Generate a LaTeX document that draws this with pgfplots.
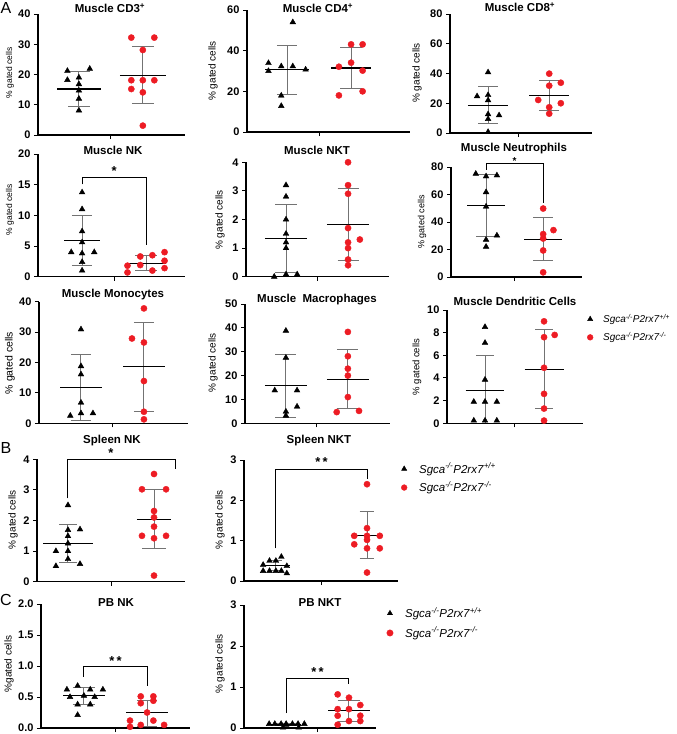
\documentclass[border=0pt]{standalone}
\usepackage{fontspec}
\setmainfont{Liberation Sans}
\usepackage{pgfplots}
\pgfplotsset{compat=1.18}

\definecolor{ptred}{RGB}{237,28,36}
\definecolor{whiskgray}{RGB}{115,115,115}

\pgfplotsset{
  panel/.style={scale only axis, anchor=south west, axis lines*=left,
    axis line style={line width=1.1pt}, ymin=0, xtick={1.5}, xticklabels={},
    tick align=outside, major tick length=4pt, tick style={line width=1pt, black},
    tick label style={font=\bfseries\fontsize{11}{12}\selectfont},
    /pgf/number format/assume math mode=true, clip=false},
  whisk/.style={whiskgray, line width=1pt, forget plot},
  meanbar/.style={black, line width=1.1pt, forget plot},
  bracket/.style={black, line width=1pt, forget plot},
  tri/.style={only marks, mark=triangle*, mark size=3.3pt, black, forget plot},
  dot/.style={only marks, mark=*, mark size=3.1pt, ptred, forget plot},
  keybox/.style={legend image code/.code={\draw[##1] plot coordinates {(0pt,0pt)};},
    legend style={at={(#1)}, anchor=north west, draw=none, fill=none,
      inner sep=0pt, nodes={inner sep=1pt}},
    legend cell align=left},
}

% mean +/- SD: x, mean, low, high, cap half-width, mean-bar half-width
\newcommand\msd[6]{%
  \pgfmathsetmacro\msdxa{#1-#5}\pgfmathsetmacro\msdxb{#1+#5}%
  \pgfmathsetmacro\msdxc{#1-#6}\pgfmathsetmacro\msdxd{#1+#6}%
  \edef\msdplot{%
    \noexpand\addplot[whisk] coordinates {(#1,#3) (#1,#4)};
    \noexpand\addplot[whisk] coordinates {(\msdxa,#3) (\msdxb,#3)};
    \noexpand\addplot[whisk] coordinates {(\msdxa,#4) (\msdxb,#4)};
    \noexpand\addplot[meanbar] coordinates {(\msdxc,#2) (\msdxd,#2)};
  }\msdplot}

\newcommand\legtext[2]{\hspace{#2}\textit{Sgca}\textsuperscript{\textit{-/-}}\textit{P2rx7}\textsuperscript{\textit{#1}}}
\newcommand\startxt[1]{\bfseries\fontsize{#1}{#1}\selectfont}

\begin{document}
\begin{tikzpicture}
\useasboundingbox (0,0) rectangle (677pt,-734pt);

% ---------------- A: muscle ----------------
\begin{axis}[panel, at={(38pt,-135pt)}, width=147pt, height=121pt,
  xmin=0.36, xmax=2.66, ymax=40, ytick={0,10,20,30,40}]
\msd{1}{15.2}{9.4}{21.0}{0.17}{0.34}
\msd{2}{19.8}{10.3}{29.3}{0.17}{0.36}
\addplot[tri] coordinates {(0.82,21.2) (1.17,21.9) (0.82,18.2) (1,19.0) (1,16.8) (1,14.7) (1,12.0) (1,8.1)};
\addplot[dot] coordinates {(1.82,32.2) (2.18,32.2) (2,28.1) (1.82,18.1) (2,18.1) (2.18,18.1) (1.82,15.2) (2,14.1) (2,3.1)};
\end{axis}

\begin{axis}[panel, at={(247pt,-132pt)}, width=163pt, height=122pt,
  xmin=0.375, xmax=2.92, ymax=60, ytick={0,20,40,60}]
\msd{1}{30.7}{18.4}{42.6}{0.16}{0.34}
\msd{2}{31.5}{21.5}{41.5}{0.17}{0.31}
\addplot[tri] coordinates {(0.71,33.9) (0.71,30.0) (0.91,32.3) (1.09,54) (1.09,32.3) (1.29,30.7) (0.91,17.9) (0.91,12.8)};
\addplot[dot] coordinates {(2,43.1) (2.18,43.1) (1.81,32.1) (2,34.1) (2.18,30.2) (1.81,18.0) (2.18,20.0)};
\end{axis}

\begin{axis}[panel, at={(450pt,-133pt)}, width=142pt, height=119pt,
  xmin=0.377, xmax=2.70, ymax=80, ytick={0,20,40,60,80}]
\msd{1}{18.6}{6.5}{31.1}{0.16}{0.33}
\msd{2}{25.1}{15.2}{35.4}{0.16}{0.33}
\addplot[tri] coordinates {(1,40.8) (0.82,24.7) (1,25.5) (1,22.0) (1.18,11.9) (1,12.6) (1,9.4) (1,0.7)};
\addplot[dot] coordinates {(2,39.9) (2.19,33.8) (2,31.8) (1.82,22.2) (2.19,20.0) (2,17.3) (2,13.0)};
\end{axis}

\begin{axis}[panel, at={(38pt,-276.7pt)}, width=147pt, height=122.7pt,
  xmin=0.31, xmax=2.61, ymax=20, ytick={0,5,10,15,20}]
\msd{1}{5.9}{1.8}{10.05}{0.16}{0.28}
\msd{2}{2.2}{1.0}{3.4}{0.17}{0.31}
\addplot[tri] coordinates {(1,13.75) (1,11.0) (1,7.4) (1,5.6) (0.83,4.0) (1,3.8) (1.19,4.0) (1,2.4) (1,1.0)};
\addplot[dot] coordinates {(1.71,1.8) (1.71,0.7) (1.91,3.3) (1.91,1.9) (2.1,3.5) (2.1,1.0) (2.29,4.0) (2.29,2.6) (2.29,1.4)};
\addplot[bracket] coordinates {(1,15.05) (1,16.1) (2,16.1) (2,5.2)};
\node[font=\startxt{13}] at (axis cs:1.5,17.3) {*};
\end{axis}

\begin{axis}[panel, at={(246pt,-276.7pt)}, width=143pt, height=114.4pt,
  xmin=0.355, xmax=2.66, ymax=4, ytick={0,1,2,3,4}]
\msd{1}{1.33}{0.16}{2.52}{0.17}{0.34}
\msd{2}{1.82}{0.56}{3.09}{0.17}{0.34}
\addplot[tri] coordinates {(1,3.2) (1,2.8) (1,2.0) (1,1.5) (1,1.2) (1,1.0) (0.81,0.0) (1,0.08) (1.18,0.08)};
\addplot[dot] coordinates {(2,4.0) (2,3.2) (2,2.9) (2,1.7) (2,1.2) (2.19,1.3) (2,1.0) (2,0.6) (2,0.4)};
\end{axis}

\begin{axis}[panel, at={(451pt,-277pt)}, width=131pt, height=110pt,
  xmin=0.386, xmax=2.68, ymax=80, ytick={0,20,40,60,80}]
\msd{1}{52.0}{29.8}{74.4}{0.17}{0.33}
\msd{2}{27.6}{12.0}{43.2}{0.17}{0.33}
\addplot[tri] coordinates {(0.82,75.1) (1,73.2) (1.19,73.9) (1,61.7) (1,51.2) (1.19,30.2) (1,27.1) (1,22.0)};
\addplot[dot] coordinates {(2,49.8) (2.18,34.1) (2,31.2) (2,28.0) (2,19.3) (2,3.4)};
\addplot[bracket] coordinates {(1,78) (1,82.9) (2,82.9) (2,53.7)};
\node[font=\startxt{10}] at (axis cs:1.5,84.2) {*};
\end{axis}

\begin{axis}[panel, at={(39pt,-423.3pt)}, width=149pt, height=121.6pt,
  xmin=0.333, xmax=2.70, ymax=40, ytick={0,10,20,30,40}]
\msd{1}{11.7}{1.0}{22.5}{0.16}{0.33}
\msd{2}{18.6}{3.8}{33.2}{0.16}{0.33}
\addplot[tri] coordinates {(1,30.9) (1,18.8) (1,16.1) (1,6.8) (1,3.3) (1.19,3.3) (0.83,2.5)};
\addplot[dot] coordinates {(2,37.8) (1.81,27.9) (2,26.6) (2,13.9) (2,3.8) (2,1.3)};
\end{axis}

\begin{axis}[panel, at={(245pt,-423.3pt)}, width=145pt, height=119.3pt,
  xmin=0.34, xmax=2.68, ymax=50, ytick={0,10,20,30,40,50}]
\msd{1}{15.9}{2.5}{28.8}{0.17}{0.34}
\msd{2}{18.4}{6.1}{31.0}{0.17}{0.34}
\addplot[tri] coordinates {(1,38.8) (1,27.5) (0.82,13.8) (1.18,13.8) (1.18,7.0) (1,4.9) (1,3.2)};
\addplot[dot] coordinates {(2,38.3) (2,28.1) (2,22.9) (2,20.0) (2,11.0) (1.82,4.7) (2.18,5.2)};
\end{axis}

\begin{axis}[panel, at={(447pt,-423.3pt)}, width=136pt, height=113.3pt,
  xmin=0.356, xmax=2.66, ymax=10, ytick={0,2,4,6,8,10},
  keybox={1.03,0.975}, legend style={row sep=6pt, font=\fontsize{10}{11}\selectfont}]
\addplot[whisk] coordinates {(1,0) (1,5.97)};
\addplot[whisk] coordinates {(0.85,5.97) (1.15,5.97)};
\addplot[meanbar] coordinates {(0.67,2.9) (1.33,2.9)};
\msd{2}{4.76}{1.3}{8.26}{0.15}{0.33}
\addplot[tri] coordinates {(1,8.5) (1,7.1) (1,3.85) (0.81,1.9) (1,1.9) (1.2,1.9) (0.81,0.24) (1,0.24) (1.2,0.24)};
\addplot[dot] coordinates {(2,9.0) (2,7.6) (2.18,7.8) (2,4.9) (2,2.6) (2,1.3) (2,0.24)};
\addlegendimage{only marks, mark=triangle*, mark size=3.0pt, black}
\addlegendentry{\legtext{+/+}{9pt}}
\addlegendimage{only marks, mark=*, mark size=2.9pt, ptred}
\addlegendentry{\legtext{-/-}{9pt}}
\end{axis}

% ---------------- B: spleen ----------------
\begin{axis}[panel, at={(37pt,-581.7pt)}, width=148pt, height=122.4pt,
  xmin=0.64, xmax=2.36, ymax=4, ytick={0,1,2,3,4}]
\msd{1}{1.25}{0.63}{1.86}{0.10}{0.29}
\msd{2}{2.04}{1.07}{3.02}{0.135}{0.20}
\addplot[tri] coordinates {(1,2.5) (1,1.69) (1.14,1.71) (1,1.49) (1,1.25) (0.86,1.0) (1,1.0) (1,0.74) (1.14,0.58) (0.86,0.51)};
\addplot[dot] coordinates {(2,3.52) (1.86,3.02) (2.14,3.02) (2,2.31) (2,2.10) (2,1.80) (1.86,1.50) (2.14,1.50) (2,1.42) (2,0.2)};
\addplot[bracket] coordinates {(1,2.72) (1,4.0) (2.25,4.0) (2.25,3.67)};
\node[font=\startxt{13}] at (axis cs:1.5,4.2) {*};
\end{axis}

\begin{axis}[panel, at={(244pt,-581pt)}, width=154pt, height=121pt,
  xmin=0.65, xmax=2.34, ymax=3, ytick={0,1,2,3},
  keybox={1.02,0.985}, legend style={row sep=5pt, font=\fontsize{11.5}{12}\selectfont}]
\msd{1}{0.38}{0.27}{0.50}{0.066}{0.15}
\msd{2}{1.12}{0.55}{1.72}{0.08}{0.18}
\addplot[tri] coordinates {(0.86,0.40) (0.93,0.5) (1,0.5) (1.06,0.6) (0.86,0.25) (0.93,0.25) (1,0.25) (1.06,0.25) (1.12,0.19) (1.12,0.37)};
\addplot[dot] coordinates {(2,2.4) (2,1.31) (1.86,1.12) (2,1.02) (2.14,1.12) (1.86,0.91) (2,0.81) (2.14,0.81) (2,0.21) (2,1.12)};
\addplot[bracket] coordinates {(1,0.81) (1,2.77) (2,2.77) (2,2.52)};
\node[font=\startxt{13}] at (axis cs:1.5,2.95) {*\,*};
\addlegendimage{only marks, mark=triangle*, mark size=3.0pt, black}
\addlegendentry{\legtext{+/+}{11pt}}
\addlegendimage{only marks, mark=*, mark size=2.9pt, ptred}
\addlegendentry{\legtext{-/-}{11pt}}
\end{axis}

% ---------------- C: peripheral blood ----------------
\begin{axis}[panel, at={(41pt,-728pt)}, width=149pt, height=124pt,
  xmin=0.32, xmax=2.68, ymax=2, ytick={0,0.5,1,1.5,2},
  yticklabel style={/pgf/number format/fixed, /pgf/number format/precision=1,
    /pgf/number format/fixed zerofill}]
\msd{1}{0.52}{0.38}{0.66}{0.18}{0.33}
\msd{2}{0.25}{0.03}{0.44}{0.16}{0.33}
\addplot[tri] coordinates {(0.73,0.62) (0.90,0.68) (1.10,0.62) (1.30,0.62) (0.78,0.50) (1,0.52) (1.17,0.50) (0.90,0.38) (1.10,0.38) (0.90,0.21)};
\addplot[dot] coordinates {(1.9,0.51) (2.1,0.51) (2.1,0.44) (1.9,0.40) (2.0,0.25) (1.73,0.12) (1.73,0.02) (1.9,0.05) (2.27,0.05) (2.1,0.12)};
\addplot[bracket] coordinates {(1,0.83) (1,0.99) (2,0.99) (2,0.67)};
\node[font=\startxt{13}] at (axis cs:1.5,1.08) {*\,*};
\end{axis}

\begin{axis}[panel, at={(244pt,-728pt)}, width=132pt, height=123pt,
  xmin=0.33, xmax=2.43, ymax=3, ytick={0,1,2,3},
  keybox={1.08,0.99}, legend style={row sep=6pt, font=\fontsize{11.5}{12}\selectfont}]
\msd{1}{0.08}{0.05}{0.10}{0.17}{0.24}
\msd{2}{0.42}{0.16}{0.66}{0.18}{0.33}
\addplot[tri] coordinates {(0.73,0.1) (0.82,0.1) (0.92,0.1) (1,0.1) (1.1,0.1) (1.19,0.1) (1.29,0.1) (0.95,0.01) (1.2,0.01) (1,0.08)};
\addplot[dot] coordinates {(1.82,0.82) (2,0.74) (1.82,0.46) (2.18,0.56) (2,0.46) (1.82,0.30) (2.18,0.30) (2,0.17) (1.82,0.08) (2.18,0.17)};
\addplot[bracket] coordinates {(1,0.36) (1,1.21) (2,1.21) (2,1.07)};
\node[font=\startxt{13}] at (axis cs:1.5,1.36) {*\,*};
\addlegendimage{only marks, mark=triangle*, mark size=3.0pt, black}
\addlegendentry{\legtext{+/+}{11pt}}
\addlegendimage{only marks, mark=*, mark size=3.2pt, ptred}
\addlegendentry{\legtext{-/-}{11pt}}
\end{axis}

% ---------------- titles ----------------
\begin{scope}[every node/.style={font=\startxt{11.5}}]
\node at (110pt,-8pt) {Muscle CD3\textsuperscript{+}};
\node at (318pt,-8pt) {Muscle CD4\textsuperscript{+}};
\node at (520pt,-7pt) {Muscle CD8\textsuperscript{+}};
\node at (113pt,-150pt) {Muscle NK};
\node at (317pt,-150pt) {Muscle NKT};
\node at (514pt,-149pt) {Muscle Neutrophils};
\node at (113pt,-295pt) {Muscle Monocytes};
\node at (317pt,-300pt) {Muscle\ \ Macrophages};
\node at (515pt,-301pt) {Muscle Dendritic Cells};
\node at (112pt,-441pt) {Spleen NK};
\node at (319pt,-441pt) {Spleen NKT};
\node at (116pt,-603pt) {PB NK};
\node at (320pt,-603pt) {PB NKT};
\end{scope}

% ---------------- y-axis labels ----------------
\node[rotate=90, font=\fontsize{8.5}{9}\selectfont] at (10pt,-73pt) {\% gated cells};
\node[rotate=90, font=\fontsize{10}{10}\selectfont] at (213pt,-71pt) {\% gated cells};
\node[rotate=90, font=\fontsize{10}{10}\selectfont] at (417pt,-73pt) {\% gated cells};
\node[rotate=90, font=\fontsize{8.5}{9}\selectfont] at (10pt,-210pt) {\% gated cells};
\node[rotate=90, font=\fontsize{10}{10}\selectfont] at (220pt,-220pt) {\% gated cells};
\node[rotate=90, font=\fontsize{9}{9}\selectfont] at (422pt,-222pt) {\% gated cells};
\node[rotate=90, font=\fontsize{10.5}{10.5}\selectfont] at (10pt,-363pt) {\% gated cells};
\node[rotate=90, font=\fontsize{10}{10}\selectfont] at (213pt,-363pt) {\% gated cells};
\node[rotate=90, font=\fontsize{9.5}{9.5}\selectfont] at (417pt,-367pt) {\% gated cells};
\node[rotate=90, font=\fontsize{10}{10}\selectfont] at (13pt,-520pt) {\% gated cells};
\node[rotate=90, font=\fontsize{10}{10}\selectfont] at (220pt,-520pt) {\% gated cells};
\node[rotate=90, font=\fontsize{10}{10}\selectfont] at (9pt,-664pt) {\%gated cells};
\node[rotate=90, font=\fontsize{10}{10}\selectfont] at (220pt,-664pt) {\% gated cells};

% ---------------- panel letters ----------------
\node[font=\fontsize{16}{16}\selectfont] at (6pt,-8pt) {A};
\node[font=\fontsize{16}{16}\selectfont] at (6pt,-448pt) {B};
\node[font=\fontsize{16}{16}\selectfont] at (6pt,-600pt) {C};
\end{tikzpicture}
\end{document}
